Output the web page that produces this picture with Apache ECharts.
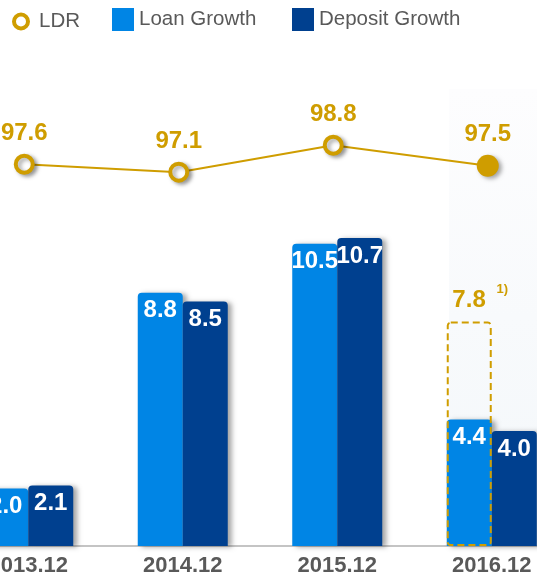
<!DOCTYPE html>
<html>
<head>
<meta charset="utf-8">
<script src="https://cdn.jsdelivr.net/npm/echarts@6/dist/echarts.min.js"></script>
<style>
html,body{margin:0;padding:0;background:#fff;}
#chart{width:537px;height:578px;}
</style>
</head>
<body>
<div id="chart"></div>
<script>
// ---- data ----
var categories = ['2013.12', '2014.12', '2015.12', '2016.12'];
var ldr = [97.6, 97.1, 98.8, 97.5];
var loanGrowth = [2.0, 8.8, 10.5, 4.4];
var depositGrowth = [2.1, 8.5, 10.7, 4.0];
var loanGrowthAdjusted = [null, null, null, 7.8];
var footnote = '1)';

var GOLD = '#CF9D00';
var LOAN = '#0085E5';
var DEP = '#00408F';
var FONT = '"Liberation Sans", Arial, sans-serif';

var chart = echarts.init(document.getElementById('chart'));

var ldrData = ldr.map(function (v, i) {
  if (i === ldr.length - 1) {
    return { value: v, symbolSize: 22, itemStyle: { color: GOLD, borderWidth: 0 } };
  }
  return v;
});

var barShadow = { shadowColor: 'rgba(0,0,0,0.35)', shadowBlur: 5, shadowOffsetX: 4, shadowOffsetY: 1 };

var option = {
  animation: false,
  textStyle: { fontFamily: FONT },
  graphic: [{
    type: 'rect', z: -10, silent: true,
    shape: { x: 449, y: 89, width: 88, height: 457 },
    style: {
      fill: new echarts.graphic.LinearGradient(0, 0, 0, 1, [
        { offset: 0, color: 'rgba(253,253,254,1)' },
        { offset: 1, color: 'rgba(243,247,250,1)' }
      ])
    }
  }],
  legend: [
    {
      left: 12, top: 11, padding: 0, itemWidth: 14, itemHeight: 14, selectedMode: false,
      data: [{ name: 'LDR', icon: 'circle', itemStyle: { color: '#fff', borderColor: GOLD, borderWidth: 4 } }],
      textStyle: { fontSize: 20.5, color: '#595959', fontFamily: FONT, padding: [0, 0, 0, 6] }
    },
    {
      left: 112, top: 8, padding: 0, itemWidth: 22, itemHeight: 23, selectedMode: false,
      data: [{ name: 'Loan Growth', icon: 'rect' }],
      textStyle: { fontSize: 20.5, color: '#595959', fontFamily: FONT }
    },
    {
      left: 292, top: 8, padding: 0, itemWidth: 22, itemHeight: 23, selectedMode: false,
      data: [{ name: 'Deposit Growth', icon: 'rect' }],
      textStyle: { fontSize: 20.5, color: '#595959', fontFamily: FONT }
    }
  ],
  grid: [
    { left: -49, right: -32, top: 28, bottom: 32, containLabel: false, outerBoundsMode: 'none' },
    { left: -53, right: -28, top: 28, bottom: 32, containLabel: false, outerBoundsMode: 'none' }
  ],
  xAxis: [
    {
      type: 'category', data: categories, gridIndex: 0,
      axisLine: { lineStyle: { color: '#C4C4C4', width: 2 } },
      axisTick: { show: false },
      axisLabel: { fontSize: 22, fontWeight: 'bold', color: '#595959', margin: 9, fontFamily: FONT }
    },
    { type: 'category', data: categories, gridIndex: 0, show: false },
    { type: 'category', data: categories, gridIndex: 1, show: false }
  ],
  yAxis: [
    { type: 'value', gridIndex: 0, min: 0, max: 18, show: false, splitLine: { show: false } },
    { type: 'value', gridIndex: 1, min: 73.5, max: 106.2, show: false, splitLine: { show: false } }
  ],
  series: [
    {
      name: 'Loan Growth', type: 'bar', xAxisIndex: 0, yAxisIndex: 0,
      data: loanGrowth, barWidth: 45, barGap: '0%',
      itemStyle: Object.assign({ color: LOAN, borderRadius: [4, 4, 0, 0] }, barShadow),
      label: {
        show: true, position: 'insideTop', distance: 6, color: '#fff',
        fontSize: 24, fontWeight: 'bold', fontFamily: FONT,
        formatter: function (p) { return p.value.toFixed(1); }
      },
      z: 3
    },
    {
      name: 'Deposit Growth', type: 'bar', xAxisIndex: 0, yAxisIndex: 0,
      data: depositGrowth, barWidth: 45, barGap: '0%',
      itemStyle: Object.assign({ color: DEP, borderRadius: [4, 4, 0, 0] }, barShadow),
      label: {
        show: true, position: 'insideTop', distance: 6, color: '#fff',
        fontSize: 24, fontWeight: 'bold', fontFamily: FONT,
        formatter: function (p) { return p.value.toFixed(1); }
      },
      z: 3
    },
    {
      name: 'Loan Growth (adj.)', type: 'bar', xAxisIndex: 1, yAxisIndex: 0,
      data: loanGrowthAdjusted, barWidth: 45, barGap: '0%',
      itemStyle: { color: 'rgba(0,0,0,0)', borderColor: GOLD, borderWidth: 2, borderType: [7, 4], borderRadius: 3 },
      label: {
        show: true, position: 'top', distance: 4, offset: [11, 0],
        formatter: function (p) { return p.value == null ? '' : '{v|' + p.value.toFixed(1) + '}{s|   ' + footnote + '}'; },
        rich: {
          v: { fontSize: 24, fontWeight: 'bold', color: GOLD, fontFamily: FONT },
          s: { fontSize: 13, fontWeight: 'bold', color: GOLD, fontFamily: FONT, padding: [0, 0, 22, 0] }
        }
      },
      z: 5
    },
    {
      name: 'placeholder', type: 'bar', xAxisIndex: 1, yAxisIndex: 0,
      data: [null, null, null, null], barWidth: 45, barGap: '0%'
    },
    {
      name: 'LDR', type: 'line', xAxisIndex: 2, yAxisIndex: 1,
      data: ldrData, symbol: 'circle', symbolSize: 17,
      lineStyle: { color: GOLD, width: 2 },
      itemStyle: {
        color: '#fff', borderColor: GOLD, borderWidth: 4,
        shadowColor: 'rgba(0,0,0,0.35)', shadowBlur: 4, shadowOffsetX: 3, shadowOffsetY: 2
      },
      label: {
        show: true, position: 'top', distance: 8, color: GOLD,
        fontSize: 24, fontWeight: 'bold', fontFamily: FONT,
        formatter: function (p) { return p.value.toFixed ? p.value.toFixed(1) : Number(p.data.value).toFixed(1); }
      },
      z: 6
    }
  ]
};
option.color = [LOAN, DEP, GOLD, '#ccc', GOLD];
chart.setOption(option);
</script>
</body>
</html>
